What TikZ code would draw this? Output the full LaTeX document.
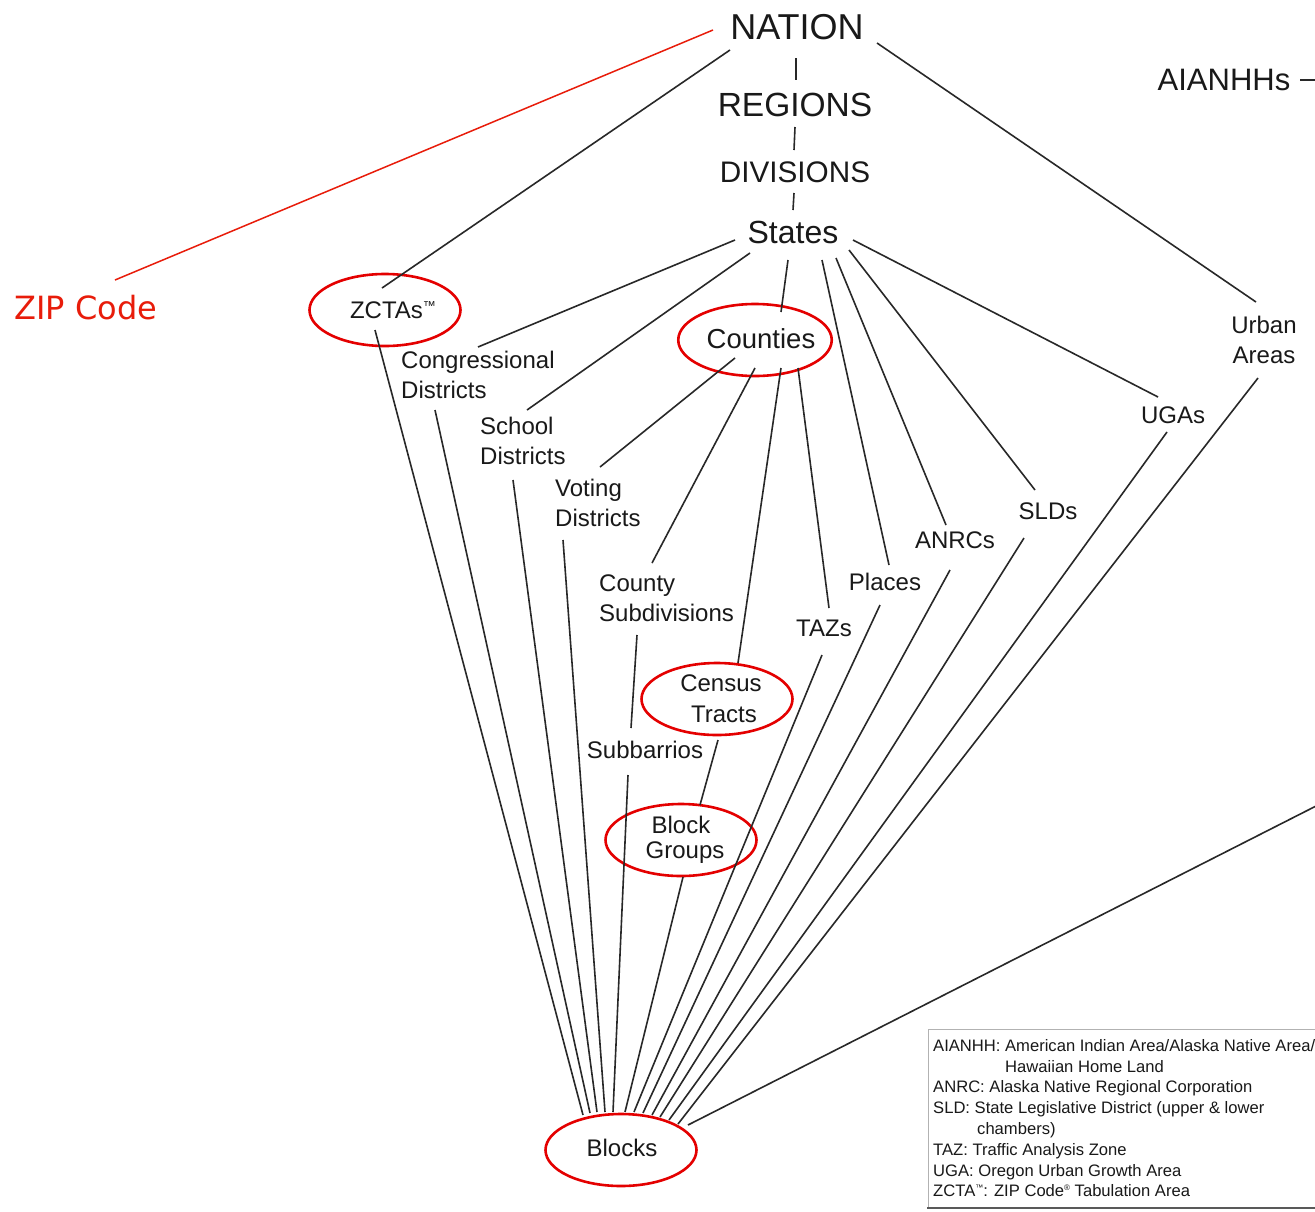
\documentclass[tikz,border=0pt]{standalone}
\usepackage{fontspec}
\setmainfont{Liberation Sans}
\newfontfamily\zipfont{DejaVu Sans}
\usetikzlibrary{shapes.geometric}
\definecolor{txt}{RGB}{25,25,25}
\definecolor{lncol}{RGB}{40,40,40}
\definecolor{hl}{RGB}{228,0,0}
\definecolor{zipred}{RGB}{232,28,10}
\begin{document}
\begin{tikzpicture}[x=1pt,y=-1pt,
  conn/.style={draw=lncol, line width=1.6pt},
  redline/.style={draw=zipred, line width=1.5pt},
  lbl/.style={font=\fontsize{24}{30}\selectfont, text=txt, inner sep=0pt, align=center},
  lbll/.style={lbl, align=left},
  oval/.style={lbl, ellipse, draw=hl, line width=2.6pt, minimum width=151pt, minimum height=72pt},
  big/.style={font=\fontsize{#1}{#1}\selectfont, text=txt, inner sep=0pt},
  legendtext/.style={font=\fontsize{16.6}{20.8}\selectfont, text=txt, inner sep=0pt, align=left}]
\path[use as bounding box] (0,0) rectangle (1315,1211);
\clip (0,0) rectangle (1315,1211);
\fill[white] (0,0) rectangle (1315,1211);

% top chain
\node[big=36] (nation) at (797,27) {NATION};
\node[big=33.5] (regions) at (795,105) {REGIONS};
\node[big=29.7] (divisions) at (795,172) {DIVISIONS};
\node[big=32] (states) at (793,232) {States};
\node[big=31] (aian) at (1224,80) {AIANHHs};
\node[font=\zipfont\fontsize{32}{32}\selectfont, text=zipred, inner sep=0pt] (zip) at (86,308) {ZIP Code};

% highlighted levels
\node[oval] (zcta) at (385,310) {\kern8pt ZCTAs\raisebox{8pt}{\fontsize{13}{13}\selectfont ™}\kern-8pt};
\node[oval, font=\fontsize{27.5}{30}\selectfont] (counties) at (755,340) {\kern6pt\raisebox{2pt}{Counties}\kern-6pt};
\node[oval, font=\fontsize{24}{31}\selectfont] (tracts) at (717,699) {\hspace*{8pt}Census\\\hspace*{14pt}Tracts};
\node[oval, font=\fontsize{24}{25}\selectfont] (bgroups) at (681,840) {Block\\\hspace*{8pt}Groups};
\node[oval] (blocks) at (621,1150) {\kern1pt\raisebox{5pt}{Blocks}\kern-1pt};

% other levels
\node[lbll, anchor=west] (cong) at (401,375) {Congressional\\Districts};
\node[lbll, anchor=west] (school) at (480,441) {School\\Districts};
\node[lbll, anchor=west] (voting) at (555,503) {Voting\\Districts};
\node[lbll, anchor=west] (csub) at (599,598) {County\\Subdivisions};
\node[lbl] (subb) at (645,750) {Subbarrios};
\node[lbl] (tazs) at (824,628) {TAZs};
\node[lbl] (places) at (885,582) {Places};
\node[lbl] (anrcs) at (955,540) {ANRCs};
\node[lbl] (slds) at (1048,511) {SLDs};
\node[lbl] (ugas) at (1173,415) {UGAs};
\node[lbl] (urban) at (1264,340) {Urban\\Areas};

\coordinate (aianout) at (1320,80);
\coordinate (rightin) at (1320,804);

% connectors: top chain
\draw[conn] ([shift={(-1,31)}]nation.center) -- ([shift={(1,-25)}]regions.center);
\draw[conn] ([shift={(0,22)}]regions.center) -- ([shift={(-1,-22)}]divisions.center);
\draw[conn] ([shift={(-1,21)}]divisions.center) -- ([shift={(0,-22)}]states.center);
\draw[conn] ([shift={(-67,23)}]nation.center) -- ([shift={(-3,-22)}]zcta.center);
\draw[conn] ([shift={(80,16)}]nation.center) -- ([shift={(-8,-38)}]urban.center);
\draw[redline] ([shift={(-84,3)}]nation.center) -- ([shift={(29,-28)}]zip.center);
\draw[conn] ([shift={(76,0)}]aian.center) -- (aianout);

% from States
\draw[conn] ([shift={(-58,8)}]states.center) -- ([shift={(77,-28)}]cong.west);
\draw[conn] ([shift={(-43,21)}]states.center) -- ([shift={(47,-31)}]school.west);
\draw[conn] ([shift={(-5,28)}]states.center) -- ([shift={(26,-28)}]counties.center);
\draw[conn] ([shift={(29,28)}]states.center) -- ([shift={(4,-17)}]places.center);
\draw[conn] ([shift={(43,26)}]states.center) -- ([shift={(-9,-15)}]anrcs.center);
\draw[conn] ([shift={(56,18)}]states.center) -- ([shift={(-13,-21)}]slds.center);
\draw[conn] ([shift={(60,8)}]states.center) -- ([shift={(-15,-18)}]ugas.center);

% from Counties
\draw[conn] ([shift={(-20,18)}]counties.center) -- ([shift={(45,-36)}]voting.west);
\draw[conn] ([shift={(0,28)}]counties.center) -- ([shift={(53,-35)}]csub.west);
\draw[conn] ([shift={(26,28)}]counties.center) -- ([shift={(21,-36)}]tracts.center);
\draw[conn] ([shift={(43,28)}]counties.center) -- ([shift={(5,-20)}]tazs.center);

% intermediate
\draw[conn] ([shift={(38,37)}]csub.west) -- ([shift={(-14,-22)}]subb.center);
\draw[conn] ([shift={(1,41)}]tracts.center) -- ([shift={(19,-35)}]bgroups.center);

% to Blocks
\draw[conn] ([shift={(-10,20)}]zcta.center) -- ([shift={(-38,-35)}]blocks.center);
\draw[conn] ([shift={(34,35)}]cong.west) -- ([shift={(-31,-37)}]blocks.center);
\draw[conn] ([shift={(33,39)}]school.west) -- ([shift={(-24,-38)}]blocks.center);
\draw[conn] ([shift={(8,37)}]voting.west) -- ([shift={(-16,-38)}]blocks.center);
\draw[conn] ([shift={(-17,25)}]subb.center) -- ([shift={(-8,-38)}]blocks.center);
\draw[conn] ([shift={(2,37)}]bgroups.center) -- ([shift={(4,-38)}]blocks.center);
\draw[conn] ([shift={(-2,27)}]tazs.center) -- ([shift={(13,-38)}]blocks.center);
\draw[conn] ([shift={(-5,23)}]places.center) -- ([shift={(22,-37)}]blocks.center);
\draw[conn] ([shift={(-5,30)}]anrcs.center) -- ([shift={(31,-35)}]blocks.center);
\draw[conn] ([shift={(-24,27)}]slds.center) -- ([shift={(39,-33)}]blocks.center);
\draw[conn] ([shift={(-6,17)}]ugas.center) -- ([shift={(48,-30)}]blocks.center);
\draw[conn] ([shift={(-6,38)}]urban.center) -- ([shift={(57,-26)}]blocks.center);
\draw[conn] (rightin) -- ([shift={(67,-25)}]blocks.center);

% legend
\draw[draw=black!30, line width=1pt] (928,1029) rectangle (1340,1207);
\draw[draw=black!65, line width=2pt] (927,1208) -- (1340,1208);
\node[legendtext, anchor=north west] (legend) at (933,1039) {%
AIANHH: American Indian Area/Alaska Native Area/\\
\hspace*{72pt}Hawaiian Home Land\\
ANRC: Alaska Native Regional Corporation\\
SLD: State Legislative District (upper \& lower\\
\hspace*{44pt}chambers)\\
TAZ: Traffic Analysis Zone\\
UGA: Oregon Urban Growth Area\\
ZCTA\raisebox{6pt}{\fontsize{8}{8}\selectfont ™}: ZIP Code\raisebox{6pt}{\fontsize{8}{8}\selectfont ®} Tabulation Area};
\end{tikzpicture}
\end{document}
